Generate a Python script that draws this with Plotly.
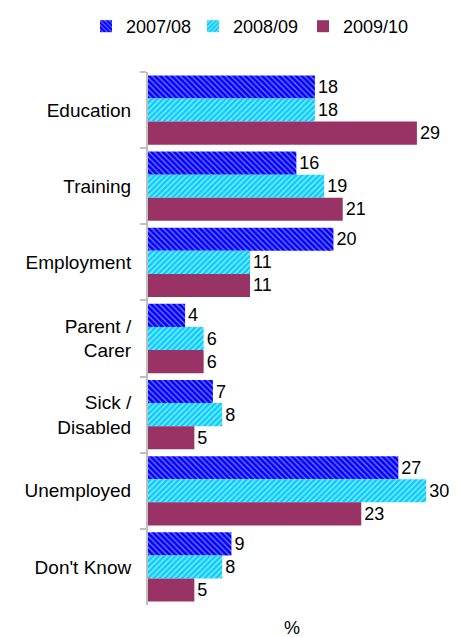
import plotly.graph_objects as go

categories = ["Education", "Training", "Employment", "Parent /<br>Carer", "Sick /<br>Disabled", "Unemployed", "Don't Know"]
series_names = ["2007/08", "2008/09", "2009/10"]
v_2007 = [18, 16, 20, 4, 7, 27, 9]
v_2008 = [18, 19, 11, 6, 8, 30, 8]
v_2009 = [29, 21, 11, 6, 5, 23, 5]

styles = [
    dict(color="#0000FF", pattern=dict(shape="\\", fgcolor="white", size=4, solidity=0.3, fillmode="overlay")),
    dict(color="#00CCFF", pattern=dict(shape="/", fgcolor="white", size=4, solidity=0.45, fillmode="overlay")),
    dict(color="#993366"),
]
legend_ids = ["legend", "legend2", "legend3"]
legend_left_px = [86, 193, 303]

FONT = "Liberation Sans, Arial"

fig = go.Figure()
for name, vals, st, lid in zip(series_names, [v_2007, v_2008, v_2009], styles, legend_ids):
    fig.add_trace(go.Bar(
        y=categories, x=vals, name=name, orientation="h",
        marker=dict(line=dict(width=0), **st),
        text=[str(v) for v in vals], textposition="outside",
        textfont=dict(family=FONT, size=18, color="black"),
        cliponaxis=False, legend=lid,
    ))

legend_layout = {}
for lid, px in zip(legend_ids, legend_left_px):
    legend_layout[lid] = dict(orientation="h", x=px / 460, xanchor="left", xref="container",
                              y=1 - 8 / 637, yanchor="top", yref="container",
                              itemwidth=30, font=dict(size=18), bgcolor="rgba(0,0,0,0)")

fig.update_layout(
    width=460, height=637,
    margin=dict(l=148, r=6, t=72, b=32, autoexpand=False),
    paper_bgcolor="white", plot_bgcolor="white",
    barmode="group", bargap=0.09, bargroupgap=0,
    font=dict(family=FONT, size=18, color="black"),
    showlegend=True,
    xaxis=dict(range=[0, 33], showticklabels=False, showgrid=False, zeroline=False,
               showline=False, ticks="", automargin=False),
    yaxis=dict(autorange="reversed", showgrid=False, showline=True, linecolor="#BFBFBF",
               linewidth=2, ticks="outside", tickson="boundaries", ticklen=6,
               tickcolor="#BFBFBF", tickwidth=2, ticklabelstandoff=11,
               tickfont=dict(size=19), automargin=False),
    annotations=[dict(text="%", xref="paper", yref="paper", x=0.47, y=-23 / 533,
                      showarrow=False, yanchor="middle", font=dict(size=18))],
    **legend_layout,
)

fig.write_html("out.html", config={"displayModeBar": False},
               post_script="document.body.style.margin='0';")
